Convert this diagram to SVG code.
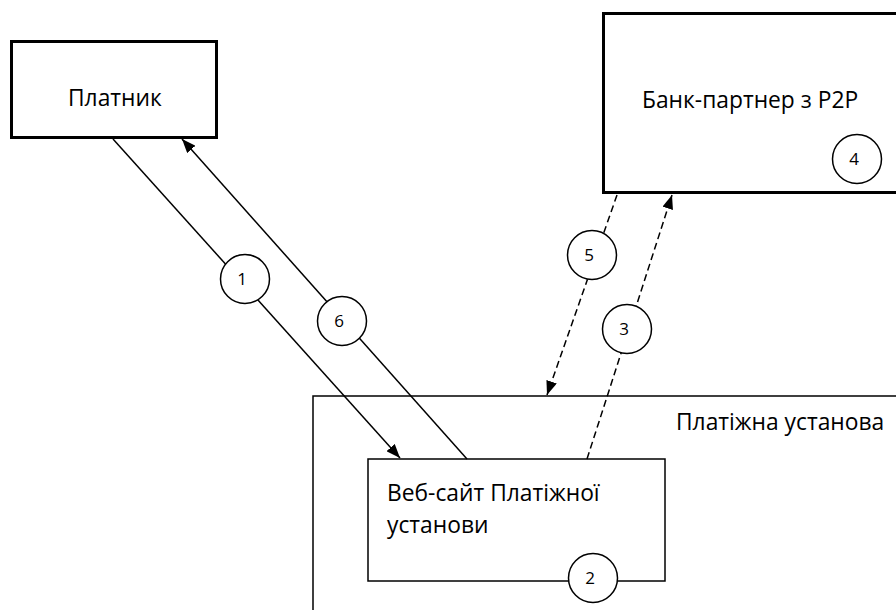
<svg xmlns="http://www.w3.org/2000/svg" width="896" height="610" viewBox="0 0 896 610">
  <defs>
    <marker id="arrow" viewBox="0 0 14 11" refX="14" refY="5.5" markerWidth="14" markerHeight="11" markerUnits="userSpaceOnUse" orient="auto">
      <path d="M0,0 L14,5.5 L0,11 Z" fill="#000"/>
    </marker>
    <style>
      .box-thick { fill: #fff; stroke: #000; stroke-width: 3; }
      .box-thin { fill: #fff; stroke: #000; stroke-width: 1.5; }
      .label { font-family: "Open Sans", "Noto Sans", sans-serif; font-size: 22.8px; fill: #000; }
      .num { font-family: "Open Sans", "Noto Sans", sans-serif; font-size: 17px; fill: #000; text-anchor: middle; }
      .step { fill: #fff; stroke: #000; stroke-width: 1.5; }
      .solid { fill: none; stroke: #000; stroke-width: 1.5; }
      .dashed { fill: none; stroke: #000; stroke-width: 1.5; stroke-dasharray: 7 4; }
    </style>
  </defs>

  <!-- Payment institution (outer container) -->
  <g id="institution">
    <rect class="box-thin" x="313" y="396" width="600" height="230"/>
    <text class="label" x="676" y="430">Платіжна установа</text>
  </g>

  <!-- Institution website -->
  <g id="website">
    <rect class="box-thin" x="368" y="459" width="297" height="122"/>
    <text class="label" x="387" y="501">Веб-сайт Платіжної</text>
    <text class="label" x="387" y="533">установи</text>
  </g>

  <!-- Payer -->
  <g id="payer">
    <rect class="box-thick" x="11.5" y="41.5" width="205" height="96"/>
    <text class="label" x="68" y="106">Платник</text>
  </g>

  <!-- Partner bank with P2P -->
  <g id="bank">
    <rect class="box-thick" x="603.5" y="13.5" width="310" height="179"/>
    <text class="label" x="642" y="108">Банк-партнер з P2P</text>
  </g>

  <!-- Connectors -->
  <g id="connectors">
    <line class="solid" x1="113" y1="139" x2="400" y2="458" marker-end="url(#arrow)"/>
    <line class="solid" x1="467" y1="459" x2="182" y2="139" marker-end="url(#arrow)"/>
    <line class="dashed" x1="587" y1="459" x2="672" y2="195" marker-end="url(#arrow)"/>
    <line class="dashed" x1="617" y1="195" x2="547" y2="395" marker-end="url(#arrow)"/>
  </g>

  <!-- Step markers -->
  <g id="step1"><circle class="step" cx="245" cy="279" r="24.5"/><text class="num" x="242" y="285">1</text></g>
  <g id="step2"><circle class="step" cx="593" cy="578" r="24.5"/><text class="num" x="590" y="584">2</text></g>
  <g id="step3"><circle class="step" cx="627" cy="329" r="24.5"/><text class="num" x="624" y="335">3</text></g>
  <g id="step4"><circle class="step" cx="857" cy="159" r="24.5"/><text class="num" x="854" y="165">4</text></g>
  <g id="step5"><circle class="step" cx="592" cy="255" r="24.5"/><text class="num" x="589" y="261">5</text></g>
  <g id="step6"><circle class="step" cx="342" cy="321" r="24.5"/><text class="num" x="339" y="327">6</text></g>
</svg>
